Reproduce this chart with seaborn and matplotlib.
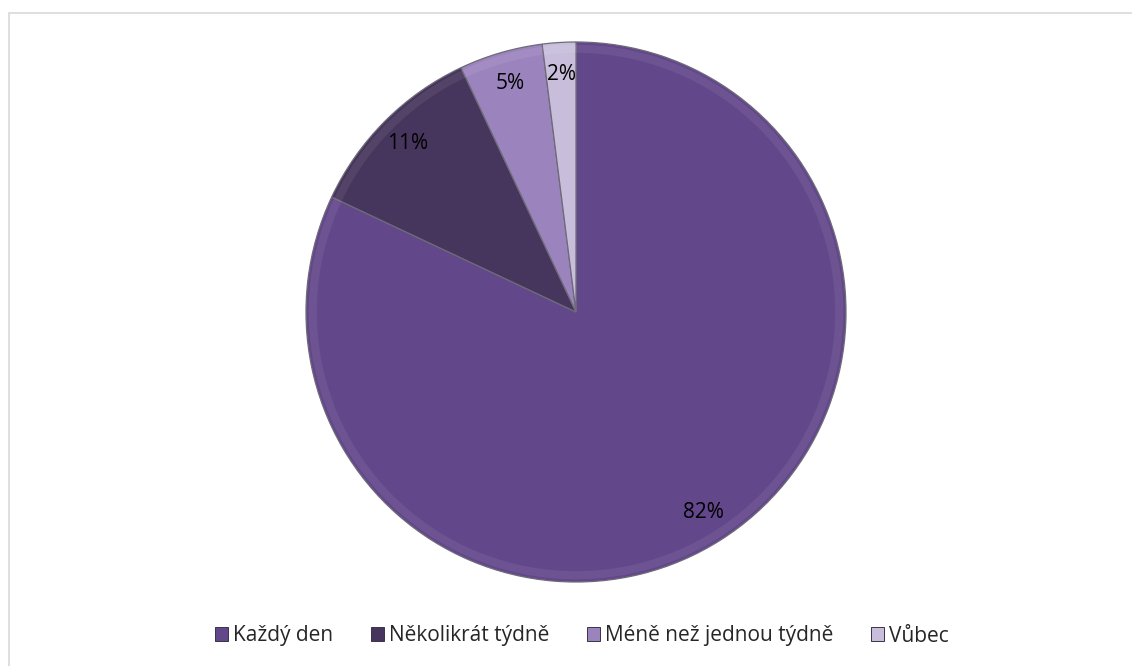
import matplotlib
matplotlib.use("Agg")
import matplotlib.pyplot as plt
from matplotlib.patches import Patch, Rectangle
import seaborn as sns

# Survey answers and their shares (percent)
categories = ["Každý den", "Několikrát týdně", "Méně než jednou týdně", "Vůbec"]
shares = [82, 11, 5, 2]
slice_colors = ["#62478a", "#46355c", "#9b84bd", "#c8bedb"]

sns.set_theme(style="white")
plt.rcParams["font.family"] = ["Open Sans", "DejaVu Sans"]

W, H = 1132, 666
fig = plt.figure(figsize=(W / 100, H / 100), dpi=100)
fig.patch.set_facecolor("white")

# light chart-area frame
fig.patches.append(Rectangle((8.5 / W, -0.1), 2.0, 1.1 - 12.5 / H,
                             transform=fig.transFigure, fill=False,
                             edgecolor="#d9d9d9", linewidth=1.2, zorder=0))

cx, cy, r = 576, 312, 270
ax = fig.add_axes([(cx - r) / W, (H - cy - r) / H, 2 * r / W, 2 * r / H])
wedges, texts, autotexts = ax.pie(
    shares, colors=slice_colors, startangle=90, counterclock=False,
    autopct=lambda p: f"{p:.0f}%", pctdistance=0.88, radius=1.0,
    wedgeprops=dict(edgecolor="#6e6a78", linewidth=0.9),
    textprops=dict(fontsize=15, color="black"),
)
# soft highlight band just inside the rim
ax.pie(shares, colors=["white"] * len(shares), startangle=90, counterclock=False,
       radius=0.99, wedgeprops=dict(width=0.03, alpha=0.07, linewidth=0))
ax.set_xlim(-1.0, 1.0)
ax.set_ylim(-1.0, 1.0)
ax.set_aspect("equal")
ax.axis("off")

handles = [Patch(facecolor=c, edgecolor="#3a3245", linewidth=0.7) for c in slice_colors]
fig.legend(handles, categories, loc="center", bbox_to_anchor=(582 / W, 1 - 636 / H),
           ncol=4, frameon=False, fontsize=15, handlelength=0.62, handleheight=0.62,
           handletextpad=0.25, columnspacing=1.8, borderaxespad=0, borderpad=0)

fig.savefig("out.png", dpi=100, facecolor="white")
